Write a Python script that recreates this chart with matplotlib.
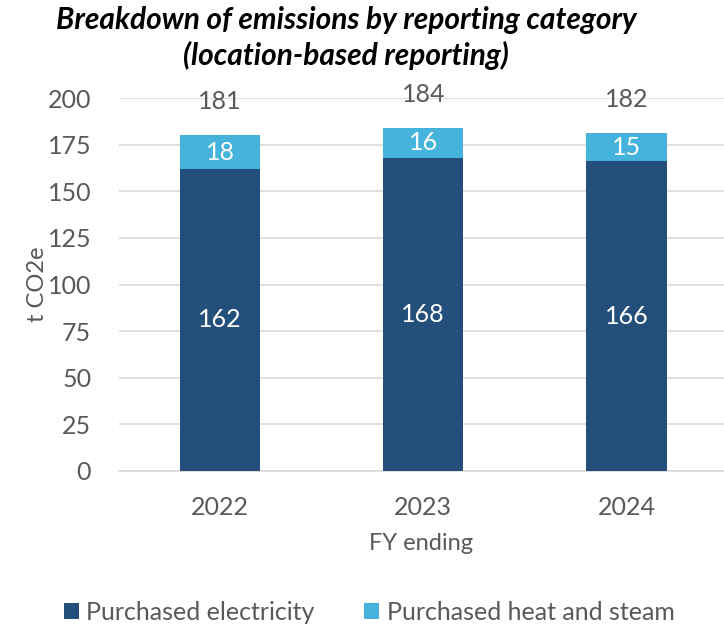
import matplotlib
matplotlib.use("Agg")
import matplotlib.pyplot as plt
import numpy as np

plt.rcParams['font.family'] = ['Lato', 'DejaVu Sans']

years = ["2022", "2023", "2024"]
electricity = [162, 168, 166]
heat_steam = [18, 16, 15]
totals = [181, 184, 182]
yticks = [0, 25, 50, 75, 100, 125, 150, 175, 200]

c_dark = "#234F7A"
c_light = "#45B3DC"
grey = "#595959"

fig = plt.figure(figsize=(7.24, 6.27), dpi=100)
ax = fig.add_axes([119/724, 1-471/627, (724-119)/724, (471-98)/627])

x = np.arange(len(years))
w = 0.395
b1 = ax.bar(x, electricity, w, color=c_dark, label="Purchased electricity", zorder=3)
b2 = ax.bar(x, heat_steam, w, bottom=electricity, color=c_light, label="Purchased heat and steam", zorder=3)

for xi, e, h, t in zip(x, electricity, heat_steam, totals):
    ax.text(xi, e/2, str(e), ha='center', va='center', color='white', fontsize=18)
    ax.text(xi, e + h/2, str(h), ha='center', va='center', color='white', fontsize=18)
    ax.annotate(str(t), (xi, e + h), xytext=(0, 16), textcoords='offset points',
                ha='center', va='bottom', color=grey, fontsize=18, annotation_clip=False)

ax.set_xlim(-0.497, 2.48)
ax.set_ylim(0, 200)
ax.set_yticks(yticks)
ax.set_xticks(x)
ax.set_xticklabels(years)
ax.yaxis.grid(True, color="#D9D9D9", linewidth=1.2, zorder=0)
ax.set_axisbelow(True)
for s in ['top', 'right', 'left']:
    ax.spines[s].set_visible(False)
ax.spines['bottom'].set_color("#D9D9D9")
ax.spines['bottom'].set_linewidth(1.2)
ax.tick_params(axis='both', length=0, colors=grey, labelsize=18)
ax.tick_params(axis='y', pad=20)
ax.tick_params(axis='x', pad=18)
ax.set_ylabel("t CO2e", color=grey, fontsize=17, labelpad=0)
ax.set_xlabel("FY ending", color=grey, fontsize=17, labelpad=10)

fig.text(0.478, 0.968, "Breakdown of emissions by reporting category", ha='center', va='center',
         fontsize=21.5, fontweight='bold', fontstyle='italic', color='black')
fig.text(0.478, 0.912, "(location-based reporting)", ha='center', va='center',
         fontsize=21.5, fontweight='bold', fontstyle='italic', color='black')

fig.legend(handles=[b1, b2], loc='center', bbox_to_anchor=(0.51, 1-612/627), ncol=2,
           frameon=False, fontsize=18, labelcolor=grey, handlelength=0.6, handleheight=0.6,
           handletextpad=0.3, columnspacing=2.0)

fig.savefig("out.png", dpi=100)
